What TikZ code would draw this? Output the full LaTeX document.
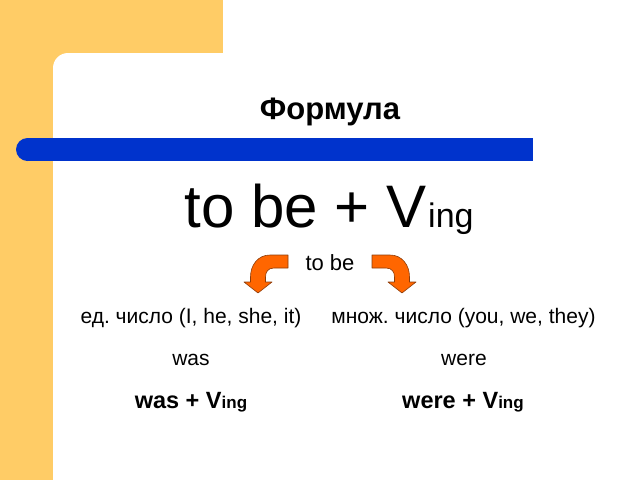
\documentclass[tikz,border=0pt]{standalone}
\usepackage{fontspec}
\setmainfont{Liberation Sans}
\frenchspacing
\definecolor{bgorange}{RGB}{255,204,102}
\definecolor{barblue}{RGB}{0,51,204}
\definecolor{arrfill}{RGB}{255,102,0}
\definecolor{arrline}{RGB}{140,60,10}
\tikzset{
  txt/.style={anchor=base, inner sep=0pt, font=\fontsize{21}{25}\selectfont},
  boldtxt/.style={anchor=base, inner sep=0pt, font=\fontsize{23.5}{27}\selectfont\bfseries},
  blockarrow/.style={fill=arrfill, draw=arrline, line width=0.6pt, line join=round}
}
\begin{document}
\begin{tikzpicture}[x=1pt,y=-1pt]
\useasboundingbox (0,0) rectangle (640,480);
\fill[white] (0,0) rectangle (640,480);
\fill[bgorange] (0,0) rectangle (223,480);
\fill[white, rounded corners=15pt] (53,53) rectangle (700,540);
% blue bar
\fill[barblue] (27.5,138) rectangle (533,161);
\fill[barblue] (27.5,149.5) circle[radius=11.5pt];
% title
\node[anchor=base, inner sep=0pt, font=\fontsize{31}{36}\selectfont\bfseries] (title) at (330,119) {Формула};
% formula
\node[anchor=base, inner sep=0pt, font=\fontsize{60}{70}\selectfont] (formula) at (329,227) {to be + V\kern2pt{\fontsize{34}{40}\selectfont ing}};
% to be
\node[txt, font=\fontsize{22}{26}\selectfont] (tobe) at (330,270) {to be};
% arrows
\draw[blockarrow] (288,255) -- (270,255) .. controls (258,255) and (250.5,265) .. (250.5,277) -- (250.5,282) -- (244,282) -- (258,293) -- (272,282) -- (265.5,282) -- (265.5,277) .. controls (265.5,272) and (268,268) .. (274,268) -- (288,268) -- cycle;
\draw[blockarrow] (372,255) -- (390,255) .. controls (402,255) and (409.5,265) .. (409.5,277) -- (409.5,282) -- (416,282) -- (402,293) -- (388,282) -- (394.5,282) -- (394.5,277) .. controls (394.5,272) and (392,268) .. (386,268) -- (372,268) -- cycle;
% columns
\node[txt] (sing) at (191,323) {ед. число (I, he, she, it)};
\node[txt] (plur) at (463.5,323) {множ. число (you, we, they)};
\node[txt] (was) at (191,365) {was};
\node[txt] (were) at (464,365) {were};
\node[boldtxt] (wasf) at (191,408) {was + V{\fontsize{17}{19}\selectfont ing}};
\node[boldtxt] (weref) at (463,408) {were + V{\fontsize{17}{19}\selectfont ing}};
\end{tikzpicture}
\end{document}
